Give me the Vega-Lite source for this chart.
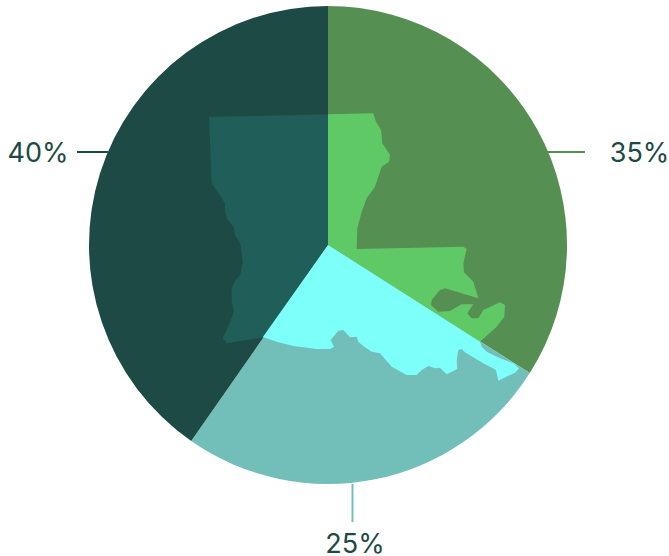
{
"$schema":"https://vega.github.io/schema/vega-lite/v6.json",
"width":669,"height":556,
"padding":0,
"autosize":"none",
"background":"white",
"config":{"view":{"stroke":null}},
"datasets":{
"shares":[
{"slice":"35%","rank":1,"share":34.0,"label":"35%","cLon":-92,"cLat":31,"lon":-85.77,"lat":32.83,"ruleLon":-87.62,"ruleLon2":-86.86,"ruleLat":32.86,"ruleLat2":32.86},
{"slice":"25%","rank":2,"share":25.7,"label":"25%","cLon":-92,"cLat":31,"lon":-91.46,"lat":25.01,"ruleLon":-91.51,"ruleLon2":-91.51,"ruleLat":26.22,"ruleLat2":25.46},
{"slice":"40%","rank":3,"share":40.3,"label":"40%","cLon":-92,"cLat":31,"lon":-97.8,"lat":32.83,"ruleLon":-97.02,"ruleLon2":-96.4,"ruleLat":32.86,"ruleLat2":32.86}
]},
"projection":{"type":"identity","reflectY":true,"scale":50,"translate":[4928,1795]},
"layer":[
{"data":{"name":"shares"},"mark":{"type":"rule","strokeWidth":2},
 "encoding":{"longitude":{"field":"ruleLon","type":"quantitative"},"latitude":{"field":"ruleLat","type":"quantitative"},"longitude2":{"field":"ruleLon2"},"latitude2":{"field":"ruleLat2"},
 "color":{"field":"slice","type":"nominal","legend":null,"scale":{"domain":["35%","25%","40%","state 35%","state 25%","state 40%"],"range":["#568f52","#72bfba","#1d4a45","#5fc966","#7dfffa","#205f59"]}}}},
{"data":{"name":"shares"},"mark":{"type":"arc","outerRadius":239},
 "encoding":{"longitude":{"field":"cLon","type":"quantitative"},"latitude":{"field":"cLat","type":"quantitative"},"theta":{"field":"share","type":"quantitative","stack":true},"order":{"field":"rank","type":"quantitative"},
 "color":{"field":"slice","type":"nominal","legend":null}}},
{"data":{"values":{"type":"FeatureCollection","features":[
{"type":"Feature","properties":{"slice":"state 40%"},"geometry":{"type":"Polygon","coordinates":[[[-94.38,33.56],[-92,33.614],[-92,31],[-93.306,29.154],[-94.026,29.034],[-94.106,29.134],[-94.026,29.3],[-93.926,29.54],[-93.88,29.686],[-93.926,29.84],[-93.926,30.14],[-93.86,30.286],[-93.76,30.4],[-93.706,30.64],[-93.726,30.866],[-93.76,31.04],[-93.86,31.2],[-93.894,31.366],[-94.026,31.534],[-94.06,31.666],[-94.06,31.834],[-94.326,32.234],[-94.38,33.56]]]}},
{"type":"Feature","properties":{"slice":"state 35%"},"geometry":{"type":"Polygon","coordinates":[[[-92,33.614],[-91.094,33.634],[-91.04,33.466],[-90.94,33.3],[-90.914,33.034],[-90.76,32.8],[-90.78,32.666],[-90.926,32.566],[-90.994,32.366],[-91.06,32.166],[-91.226,31.934],[-91.326,31.666],[-91.414,31.334],[-91.426,30.92],[-89.294,30.966],[-89.226,30.92],[-89.294,30.634],[-89.28,30.454],[-89.094,30.266],[-88.994,29.934],[-89.66,30.134],[-89.76,30.1],[-89.926,29.9],[-89.94,29.8],[-89.794,29.666],[-89.56,29.68],[-89.326,29.814],[-89.094,29.814],[-89.214,29.634],[-89.126,29.534],[-88.994,29.534],[-88.894,29.7],[-88.56,29.854],[-88.46,29.8],[-88.474,29.566],[-88.626,29.366],[-88.96,29.066],[-92,31],[-92,33.614]]]}},
{"type":"Feature","properties":{"slice":"state 25%"},"geometry":{"type":"Polygon","coordinates":[[[-92,31],[-88.96,29.066],[-88.926,28.966],[-88.826,28.866],[-88.56,28.734],[-88.294,28.634],[-88.18,28.534],[-88.26,28.446],[-88.594,28.286],[-88.64,28.5],[-88.894,28.634],[-89.26,28.854],[-89.326,28.92],[-89.394,28.9],[-89.426,28.7],[-89.414,28.52],[-89.626,28.414],[-89.76,28.546],[-89.86,28.534],[-89.994,28.58],[-90.126,28.5],[-90.226,28.4],[-90.426,28.4],[-90.726,28.566],[-90.96,28.834],[-91.126,28.866],[-91.294,28.98],[-91.394,29.066],[-91.426,29.166],[-91.56,29.154],[-91.694,29.3],[-91.794,29.286],[-91.946,29.1],[-91.88,28.966],[-91.96,28.92],[-92.226,28.92],[-92.694,28.98],[-93.026,29.066],[-93.26,29.146],[-93.306,29.154],[-92,31]]]}}
]},"format":{"type":"json","property":"features"}},
 "mark":{"type":"geoshape","strokeWidth":0},
 "encoding":{"color":{"field":"properties.slice","type":"nominal","legend":null}}},
{"data":{"name":"shares"},"mark":{"type":"text","font":"Inter","fontSize":27,"fontWeight":400,"color":"#1d4a45","baseline":"middle","align":"center"},
 "encoding":{"longitude":{"field":"lon","type":"quantitative"},"latitude":{"field":"lat","type":"quantitative"},"text":{"field":"label"}}}
]
}
